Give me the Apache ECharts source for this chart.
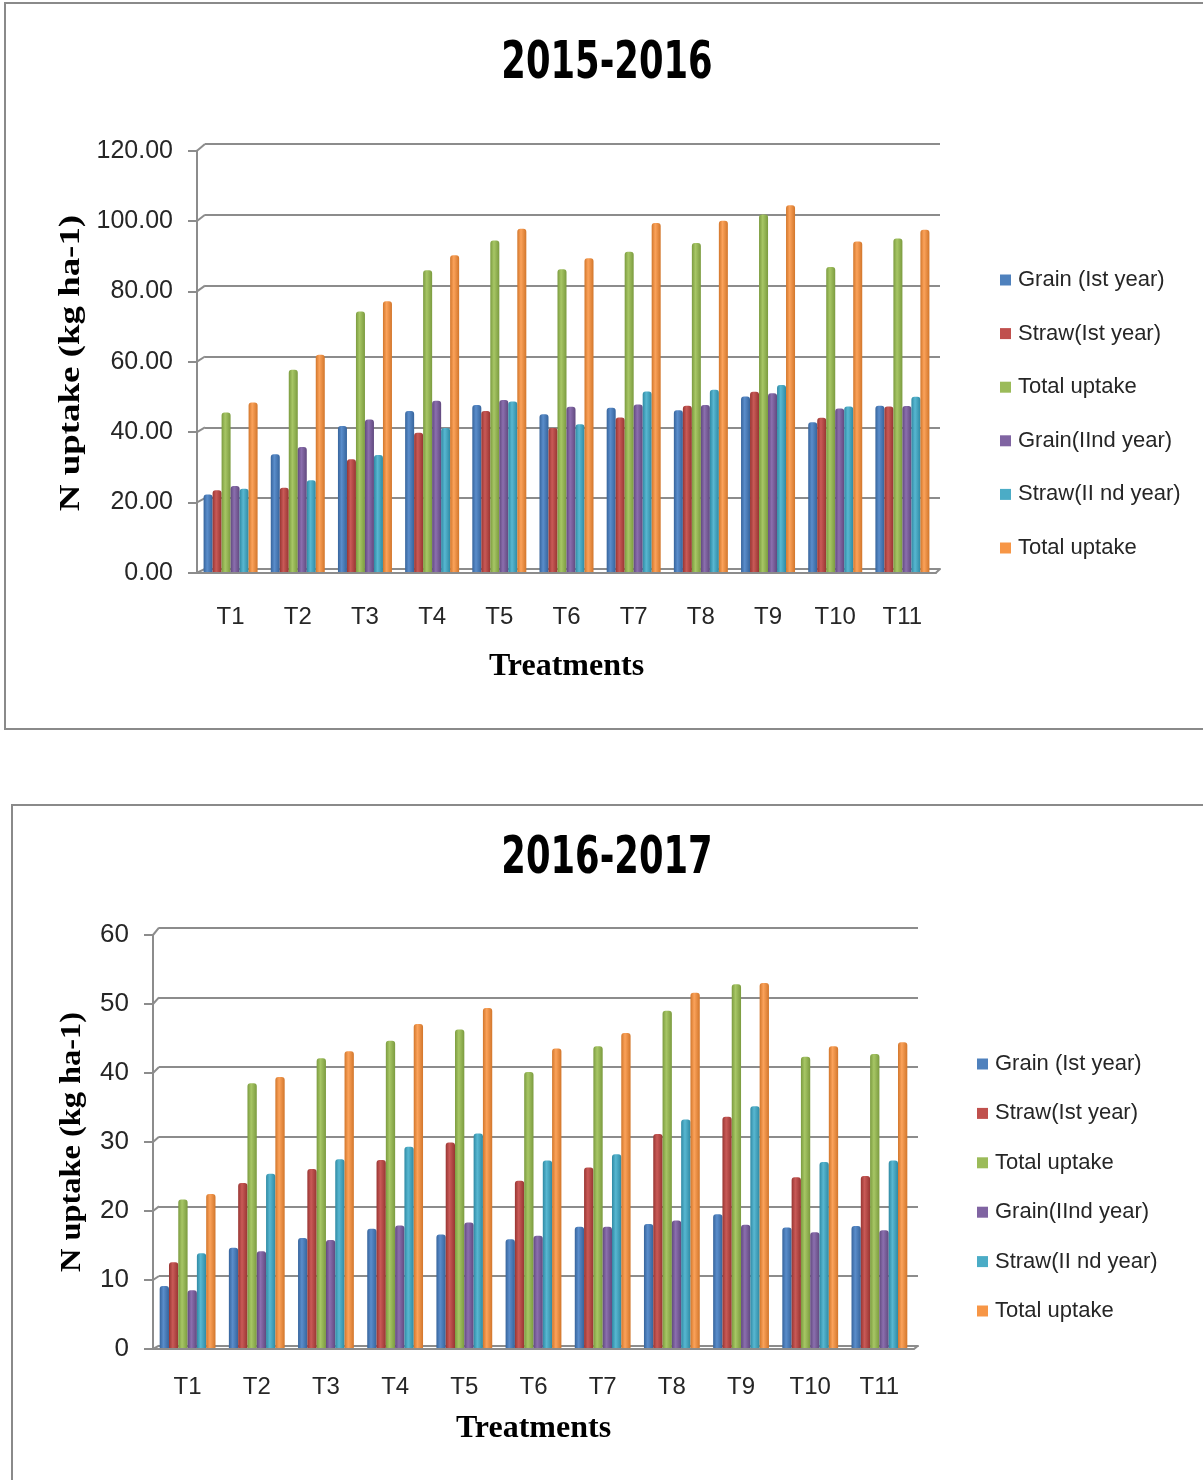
<!DOCTYPE html>
<html>
<head>
<meta charset="utf-8">
<title>N uptake by treatment</title>
<script src="https://cdn.jsdelivr.net/npm/echarts@6/dist/echarts.min.js"></script>
<style>
  html, body { margin: 0; padding: 0; background: #ffffff; }
  #chart { width: 1203px; height: 1480px; }
</style>
</head>
<body>
<div id="chart"></div>
<script>
// Treatments on the category axis
const categories = ['T1', 'T2', 'T3', 'T4', 'T5', 'T6', 'T7', 'T8', 'T9', 'T10', 'T11'];

// Series labels (the second "Total uptake" carries a trailing space so the legend can tell them apart)
const seriesNames = ['Grain (Ist year)', 'Straw(Ist year)', 'Total uptake', 'Grain(IInd year)', 'Straw(II nd year)', 'Total uptake '];

// 2015-2016, N uptake (kg ha-1)
const grain1_1516 = [21.8, 33.1, 41.1, 45.3, 47.0, 44.4, 46.2, 45.5, 49.4, 42.1, 46.8];
const straw1_1516 = [23.0, 23.7, 31.7, 39.2, 45.3, 40.5, 43.5, 46.8, 50.7, 43.4, 46.6];
const total1_1516 = [44.9, 56.9, 73.3, 84.9, 93.3, 85.2, 90.1, 92.6, 100.6, 85.8, 93.8];
const grain2_1516 = [24.2, 35.2, 42.9, 48.2, 48.4, 46.5, 47.1, 47.0, 50.3, 46.0, 46.7];
const straw2_1516 = [23.4, 25.8, 32.9, 40.5, 48.0, 41.6, 50.8, 51.3, 52.6, 46.6, 49.3];
const total2_1516 = [47.7, 61.1, 76.2, 89.1, 96.6, 88.3, 98.2, 98.8, 103.2, 93.0, 96.3];

// 2016-2017, N uptake (kg ha-1)
const grain1_1617 = [8.9, 14.4, 15.8, 17.1, 16.3, 15.6, 17.4, 17.8, 19.2, 17.3, 17.5];
const straw1_1617 = [12.3, 23.7, 25.7, 27.0, 29.5, 24.0, 25.9, 30.7, 33.2, 24.5, 24.7];
const total1_1617 = [21.3, 38.0, 41.6, 44.1, 45.7, 39.6, 43.3, 48.4, 52.2, 41.8, 42.2];
const grain2_1617 = [8.3, 13.9, 15.5, 17.6, 18.0, 16.1, 17.4, 18.3, 17.7, 16.6, 16.9];
const straw2_1617 = [13.6, 25.0, 27.1, 28.9, 30.8, 26.9, 27.8, 32.8, 34.7, 26.7, 26.9];
const total2_1617 = [22.1, 38.9, 42.6, 46.5, 48.8, 43.0, 45.2, 51.0, 52.4, 43.3, 43.9];

// Y-axis ticks
const yTicks1516 = { min: 0, max: 120, interval: 20 };
const yTicks1617 = { min: 0, max: 60, interval: 10 };

const data1516 = [grain1_1516, straw1_1516, total1_1516, grain2_1516, straw2_1516, total2_1516];
const data1617 = [grain1_1617, straw1_1617, total1_1617, grain2_1617, straw2_1617, total2_1617];

// Office-style palette: [flat, edge shade, highlight]
const palette = [
  ['#4F81BD', '#36649c', '#5a8dcb'],
  ['#C0504D', '#983532', '#c95a57'],
  ['#9BBB59', '#7b9b3f', '#a7c665'],
  ['#8064A2', '#61497f', '#8b6fae'],
  ['#4BACC6', '#2f8aa4', '#58b7d1'],
  ['#F79646', '#d2762b', '#fba25a']
];

function cylinder(p) {
  return new echarts.graphic.LinearGradient(0, 0, 1, 0, [
    { offset: 0, color: p[1] },
    { offset: 0.4, color: p[2] },
    { offset: 1, color: p[1] }
  ]);
}

const gridColor = '#8c8c8c';
const textColor = '#262626';
const sansFont = "'Liberation Sans', Arial, sans-serif";
const serifFont = "'Liberation Serif', 'Times New Roman', serif";
const condensedFont = "'DejaVu Sans Condensed', 'DejaVu Sans', sans-serif";

// Each panel is a pseudo-3D box:
//   axis  - front edge: y-axis line, ticks, tick labels, front floor edge, category labels
//   bars  - middle depth: the columns
//   wall  - back wall: gridlines and rear floor edge, shifted up and right
const panels = [
  {
    title: '2015-2016', titleY: 64, yNameX: 71, yNameY: 363, yNameStretch: 1.23,
    axis: { left: 197, top: 150.7, width: 739, height: 422 },
    bars: { left: 197, top: 145.5, width: 739, height: 426.5 },
    wall: { left: 205, top: 144, width: 735, height: 425 },
    ticks: yTicks1516, decimals: 2, data: data1516, barWidth: 9,
    tickFont: 25, legendLeft: 1000, legendTop: 268, legendGap: 29.6,
    xNameGap: 78, labelMargin: 33
  },
  {
    title: '2016-2017', titleY: 859, yNameX: 72, yNameY: 1142, yNameStretch: 1.08,
    axis: { left: 153, top: 935, width: 761, height: 414 },
    bars: { left: 153, top: 930, width: 761, height: 418 },
    wall: { left: 159, top: 927.7, width: 759, height: 418 },
    ticks: yTicks1617, decimals: 0, data: data1617, barWidth: 9.3,
    tickFont: 26, legendLeft: 977, legendTop: 1052, legendGap: 25.4,
    xNameGap: 64, labelMargin: 26
  }
];

const option = {
  animation: false,
  backgroundColor: '#ffffff',
  grid: [], xAxis: [], yAxis: [], legend: [], series: [],
  graphic: [
    { type: 'rect', shape: { x: 5, y: 3, width: 1260, height: 726 }, style: { fill: 'none', stroke: '#8a8a8a', lineWidth: 2 }, silent: true },
    { type: 'rect', shape: { x: 12, y: 805, width: 1260, height: 720 }, style: { fill: 'none', stroke: '#8a8a8a', lineWidth: 2 }, silent: true }
  ]
};

const hiddenAxis = {
  axisLine: { show: false }, axisTick: { show: false }, axisLabel: { show: false }, splitLine: { show: false }
};

panels.forEach(function (pn) {
  const g0 = option.grid.length;   // axis grid
  const gBar = g0 + 1;             // bar grid
  const gWall = g0 + 2;            // back wall grid
  pn.gridBase = g0;

  // title and rotated y-axis name as text elements
  option.graphic.push({
    type: 'text', x: 607, y: pn.titleY, scaleX: 0.755, silent: true,
    style: { text: pn.title, fontFamily: condensedFont, fontWeight: 'bold', fontSize: 52, fill: '#000000', align: 'center', verticalAlign: 'middle' }
  });
  option.graphic.push({
    type: 'text', x: pn.yNameX, y: pn.yNameY, rotation: Math.PI / 2, scaleX: pn.yNameStretch, silent: true,
    style: { text: 'N uptake (kg ha-1)', fontFamily: serifFont, fontWeight: 'bold', fontSize: 30, fill: '#000000', align: 'center', verticalAlign: 'middle' }
  });

  option.grid.push(Object.assign({}, pn.axis));
  option.grid.push(Object.assign({}, pn.bars));
  option.grid.push(Object.assign({}, pn.wall));

  // front edge
  option.xAxis.push({
    type: 'category', gridIndex: g0, data: categories,
    axisLine: { show: true, lineStyle: { color: gridColor, width: 2 } },
    axisTick: { show: false },
    axisLabel: { fontFamily: sansFont, fontSize: 24, color: textColor, margin: pn.labelMargin },
    name: 'Treatments', nameLocation: 'middle', nameGap: pn.xNameGap,
    nameTextStyle: { fontFamily: serifFont, fontWeight: 'bold', fontSize: 32, color: '#000000' }
  });
  option.yAxis.push({
    type: 'value', gridIndex: g0, min: pn.ticks.min, max: pn.ticks.max, interval: pn.ticks.interval,
    axisLine: { show: true, lineStyle: { color: gridColor, width: 2 } },
    axisTick: { show: true, length: 9, lineStyle: { color: gridColor, width: 2 } },
    splitLine: { show: false },
    axisLabel: {
      fontFamily: sansFont, fontSize: pn.tickFont, color: textColor, margin: 24, padding: [8, 0, 0, 0],
      formatter: function (v) { return v.toFixed(pn.decimals); }
    }
  });

  // columns
  option.xAxis.push(Object.assign({ type: 'category', gridIndex: gBar, data: categories }, hiddenAxis));
  option.yAxis.push(Object.assign({ type: 'value', gridIndex: gBar, min: pn.ticks.min, max: pn.ticks.max, interval: pn.ticks.interval }, hiddenAxis));

  // back wall
  option.xAxis.push({
    type: 'category', gridIndex: gWall, data: categories,
    axisLine: { show: true, lineStyle: { color: gridColor, width: 2 } },
    axisTick: { show: false }, axisLabel: { show: false }, splitLine: { show: false }
  });
  option.yAxis.push({
    type: 'value', gridIndex: gWall, min: pn.ticks.min, max: pn.ticks.max, interval: pn.ticks.interval,
    axisLine: { show: false }, axisTick: { show: false }, axisLabel: { show: false },
    splitLine: { show: true, lineStyle: { color: gridColor, width: 2 } }
  });

  option.legend.push({
    orient: 'vertical', left: pn.legendLeft, top: pn.legendTop, padding: 0,
    itemWidth: 11, itemHeight: 11, itemGap: pn.legendGap, icon: 'rect',
    selectedMode: false,
    textStyle: { fontFamily: sansFont, fontSize: 22, color: textColor, lineHeight: 24, padding: [0, 0, 0, 2] },
    data: seriesNames.map(function (n, i) { return { name: n, itemStyle: { color: palette[i][0] } }; })
  });

  pn.data.forEach(function (vals, si) {
    option.series.push({
      type: 'bar', name: seriesNames[si], xAxisIndex: gBar, yAxisIndex: gBar,
      data: vals, barWidth: pn.barWidth, barGap: '0%',
      itemStyle: { color: cylinder(palette[si]), borderRadius: [3, 3, 0, 0] },
      z: 3
    });
  });
});

const chart = echarts.init(document.getElementById('chart'), null, { renderer: 'canvas' });
chart.setOption(option);

// Side-wall connectors: join each front tick to its gridline on the back wall,
// and close the floor at the right end.
const connectors = [];
panels.forEach(function (pn) {
  const g0 = pn.gridBase;
  const line = function (x1, y1, x2, y2) {
    connectors.push({
      type: 'line', silent: true, z: 1,
      shape: { x1: x1, y1: y1, x2: x2, y2: y2 },
      style: { stroke: gridColor, lineWidth: 2 }
    });
  };
  for (let v = pn.ticks.min; v <= pn.ticks.max; v += pn.ticks.interval) {
    const yFront = chart.convertToPixel({ yAxisIndex: g0 }, v);
    const yBack = chart.convertToPixel({ yAxisIndex: g0 + 2 }, v);
    line(pn.axis.left, yFront, pn.wall.left, yBack);
  }
  const y0Front = chart.convertToPixel({ yAxisIndex: g0 }, pn.ticks.min);
  const y0Back = chart.convertToPixel({ yAxisIndex: g0 + 2 }, pn.ticks.min);
  line(pn.axis.left + pn.axis.width, y0Front, pn.wall.left + pn.wall.width, y0Back);
});
chart.setOption({ graphic: option.graphic.concat(connectors) });
</script>
</body>
</html>
